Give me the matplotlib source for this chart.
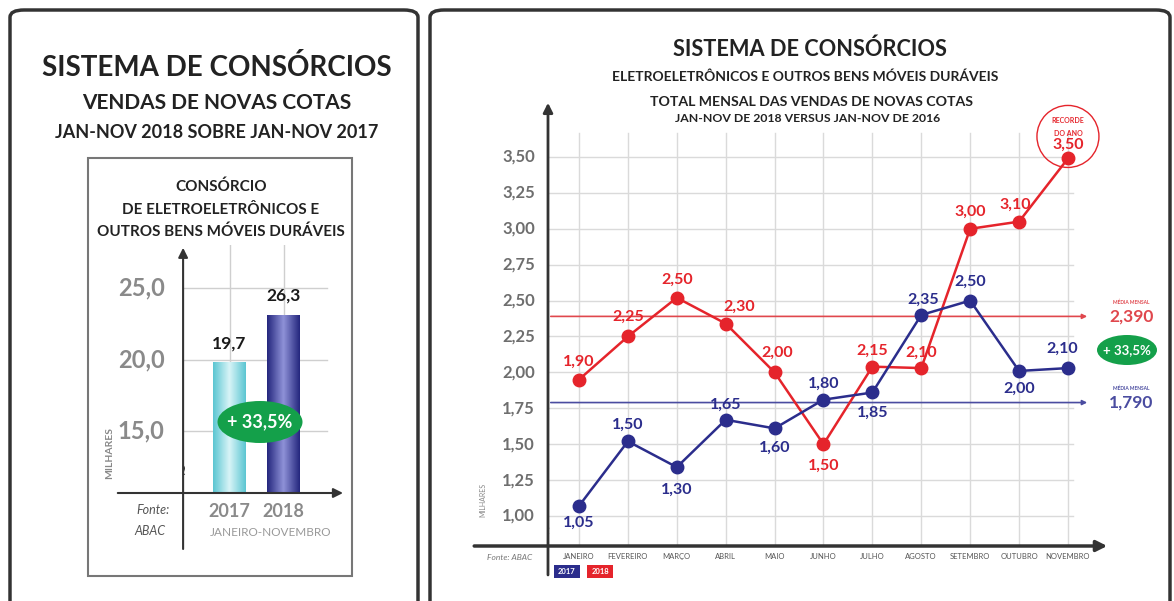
import numpy as np
import matplotlib
matplotlib.use("Agg")
import matplotlib.pyplot as plt
from matplotlib.patches import FancyBboxPatch, Ellipse, Circle, Rectangle
from matplotlib.colors import LinearSegmentedColormap
import matplotlib.transforms as mtransforms

plt.rcParams['font.family'] = ['Lato', 'DejaVu Sans']

W, H = 1174, 601

# left panel data (bar heights as drawn, labels as printed)
bar_years = ['2017', '2018']
bar_heights = [19.8, 23.1]
bar_labels = ['19,7', '26,3']
bar_ticks = [15.0, 20.0, 25.0]

# right panel data
months = ['JANEIRO', 'FEVEREIRO', 'MARÇO', 'ABRIL', 'MAIO', 'JUNHO', 'JULHO',
          'AGOSTO', 'SETEMBRO', 'OUTUBRO', 'NOVEMBRO']
vals_2018 = [1.95, 2.25, 2.52, 2.34, 2.00, 1.50, 2.04, 2.03, 3.00, 3.05, 3.49]
labels_2018 = ['1,90', '2,25', '2,50', '2,30', '2,00', '1,50', '2,15', '2,10', '3,00', '3,10', '3,50']
vals_2017 = [1.07, 1.52, 1.34, 1.67, 1.61, 1.81, 1.86, 2.40, 2.50, 2.01, 2.03]
labels_2017 = ['1,05', '1,50', '1,30', '1,65', '1,60', '1,80', '1,85', '2,35', '2,50', '2,00', '2,10']
mean_2018 = 2.39
mean_2017 = 1.79
line_ticks = [1.00, 1.25, 1.50, 1.75, 2.00, 2.25, 2.50, 2.75, 3.00, 3.25, 3.50]

RED = '#e5242b'
BLUE = '#2b2d8c'
GRAY = '#7a7a7a'


def fx(px):
    return px / W


def fy(py):
    return 1 - py / H


def ax_rect(x0, y0, x1, y1):
    # pixel box (top-left origin) -> figure rect
    return [fx(x0), fy(y1), fx(x1) - fx(x0), fy(y0) - fy(y1)]


fig = plt.figure(figsize=(W / 100, H / 100), dpi=100)
fig.patch.set_facecolor('white')

# panel frames
for x0, x1 in [(10, 418), (430, 1170)]:
    fig.patches.append(FancyBboxPatch((fx(x0), fy(640)), fx(x1) - fx(x0), fy(10) - fy(640),
                                      boxstyle='round,pad=0,rounding_size=0.012',
                                      transform=fig.transFigure, fill=False,
                                      edgecolor='#333333', linewidth=2.5))
fig.patches.append(Rectangle((fx(88), fy(576)), fx(352) - fx(88), fy(158) - fy(576),
                             transform=fig.transFigure, fill=False,
                             edgecolor='#777777', linewidth=1.5))

# ---------------- left panel ----------------
fig.text(fx(217), fy(67), 'SISTEMA DE CONSÓRCIOS', ha='center', va='center',
         fontsize=20, fontweight='bold', color='#222222')
fig.text(fx(217), fy(103), 'VENDAS DE NOVAS COTAS', ha='center', va='center',
         fontsize=15, fontweight='bold', color='#222222')
fig.text(fx(217), fy(133), 'JAN-NOV 2018 SOBRE JAN-NOV 2017', ha='center', va='center',
         fontsize=13, fontweight='bold', color='#222222')
fig.text(fx(221), fy(187), 'CONSÓRCIO', ha='center', va='center',
         fontsize=11, fontweight='bold', color='#222222')
fig.text(fx(221), fy(210), 'DE ELETROELETRÔNICOS E', ha='center', va='center',
         fontsize=11, fontweight='bold', color='#222222')
fig.text(fx(221), fy(232), 'OUTROS BENS MÓVEIS DURÁVEIS', ha='center', va='center',
         fontsize=11, fontweight='bold', color='#222222')

axl = fig.add_axes(ax_rect(115, 245, 342, 493))
axl.axis('off')
xpos = np.arange(len(bar_years))
for t in bar_ticks:
    axl.plot([-0.86, 1.8], [t, t], color='#cfcfcf', lw=1, zorder=1)
    axl.text(-1.2, t, f'{t:.1f}'.replace('.', ','), ha='right', va='center',
             fontsize=17, fontweight='bold', color='#8a8a8a')
for xi in xpos:
    axl.plot([xi, xi], [10.7, 28.0], color='#cfcfcf', lw=1, zorder=1)

bar_cmaps = [
    LinearSegmentedColormap.from_list('c17', ['#5cc6d2', '#d8f4f7', '#5cc6d2']),
    LinearSegmentedColormap.from_list('c18', ['#25277e', '#8f92d8', '#25277e']),
]
bw = 0.61
grad = np.linspace(0, 1, 64).reshape(1, -1)
for xi, h, lab, cm in zip(xpos, bar_heights, bar_labels, bar_cmaps):
    axl.imshow(grad, cmap=cm, aspect='auto', extent=(xi - bw / 2, xi + bw / 2, 10.7, h),
               zorder=2)
    axl.text(xi, h + 0.8, lab, ha='center', va='bottom', fontsize=12.5,
             fontweight='bold', color='#1a1a1a')
    axl.text(xi, 10.0, bar_years[xi], ha='center', va='top', fontsize=13,
             fontweight='bold', color='#8a8a8a', clip_on=False)
axl.set_xlim(-2.12, 2.08)
axl.set_ylim(10.7, 28.0)

# axes arrows
axl.annotate('', xy=(-0.86, 28.0), xytext=(-0.86, 6.6),
             arrowprops=dict(arrowstyle='-|>', color='#333333', lw=1.5, mutation_scale=14),
             annotation_clip=False)
axl.annotate('', xy=(2.15, 10.7), xytext=(-2.12, 10.7),
             arrowprops=dict(arrowstyle='-|>', color='#333333', lw=1.5, mutation_scale=14),
             annotation_clip=False)
axl.text(-0.86, 12.3, '≀', ha='center', va='center', fontsize=11, color='#333333',
         family='DejaVu Sans')

fig.text(fx(110), fy(453), 'MILHARES', rotation=90, ha='center', va='center',
         fontsize=7.5, fontweight='bold', color='#888888')
fig.text(fx(153), fy(510), 'Fonte:', ha='center', va='center', fontsize=9,
         style='italic', color='#555555')
fig.text(fx(150), fy(531), 'ABAC', ha='center', va='center', fontsize=9,
         style='italic', color='#555555')
fig.text(fx(271), fy(533), 'JANEIRO-NOVEMBRO', ha='center', va='center', fontsize=8.5,
         color='#999999')

fig.patches.append(Ellipse((fx(260), fy(422)), 85 / W, 42 / H, transform=fig.transFigure,
                           facecolor='#14a04a', edgecolor='none', zorder=5))
fig.text(fx(260), fy(422), '+ 33,5%', ha='center', va='center', fontsize=13,
         fontweight='bold', color='white', zorder=6)

# ---------------- right panel ----------------
fig.text(fx(810), fy(49), 'SISTEMA DE CONSÓRCIOS', ha='center', va='center',
         fontsize=15.7, fontweight='bold', color='#222222')
fig.text(fx(805), fy(77), 'ELETROELETRÔNICOS E OUTROS BENS MÓVEIS DURÁVEIS', ha='center',
         va='center', fontsize=10, fontweight='bold', color='#222222')
fig.text(fx(811), fy(102), 'TOTAL MENSAL DAS VENDAS DE NOVAS COTAS', ha='center',
         va='center', fontsize=10.2, fontweight='bold', color='#222222')
fig.text(fx(808), fy(119), 'JAN-NOV DE 2018 VERSUS JAN-NOV DE 2016', ha='center',
         va='center', fontsize=8.8, fontweight='bold', color='#222222')

ax = fig.add_axes(ax_rect(548, 100, 1110, 546))
ax.set_xlim(-0.634, 10.86)
ax.set_ylim(0.791, 3.897)
ax.axis('off')
x = np.arange(len(months))

for t in line_ticks:
    ax.plot([-0.634, 10.1], [t, t], color='#dadada', lw=1, zorder=1)
    ax.text(-0.9, t, f'{t:.2f}'.replace('.', ','), ha='right', va='center',
            fontsize=12, fontweight='bold', color='#6e6e6e', clip_on=False)
for xi in x:
    ax.plot([xi, xi], [0.791, 3.67], color='#dadada', lw=1, zorder=1)
    ax.text(xi, 0.72, months[xi], ha='center', va='center', fontsize=5.5,
            color='#555555', clip_on=False)

# monthly means
for m, col, lab in [(mean_2018, '#e0474d', '2,390'), (mean_2017, '#4a4ca0', '1,790')]:
    ax.annotate('', xy=(10.45, m), xytext=(-0.634, m),
                arrowprops=dict(arrowstyle='-|>', color=col, lw=1.2, mutation_scale=7),
                zorder=2)
    ax.text(11.3, m, lab, ha='center', va='center', fontsize=12.5, fontweight='bold',
            color=col, clip_on=False)
    ax.text(11.3, m + 0.1, 'MÉDIA MENSAL', ha='center', va='center', fontsize=3.5,
            fontweight='bold', color=col, clip_on=False)

ax.plot(x, vals_2017, '-o', color=BLUE, lw=1.8, markersize=9, zorder=4)
ax.plot(x, vals_2018, '-o', color=RED, lw=1.8, markersize=9, zorder=3)

off_2018 = [(0, 18), (0, 20), (0, 18), (14, 17), (3, 20), (0, -22), (0, 16), (0, 15),
            (0, 17), (-4, 17), (0, 14)]
off_2017 = [(0, -17), (0, 17), (0, -23), (0, 15), (0, -19), (0, 16), (0, -20), (2, 15),
            (0, 19), (0, -18), (-6, 19)]
for xi, v, lab, (dx, dy) in zip(x, vals_2018, labels_2018, off_2018):
    ax.annotate(lab, xy=(xi, v), xytext=(dx * 0.72, dy * 0.72), textcoords='offset points',
                ha='center', va='center', fontsize=11.5, fontweight='bold', color=RED,
                zorder=6, annotation_clip=False)
for xi, v, lab, (dx, dy) in zip(x, vals_2017, labels_2017, off_2017):
    ax.annotate(lab, xy=(xi, v), xytext=(dx * 0.72, dy * 0.72), textcoords='offset points',
                ha='center', va='center', fontsize=11.5, fontweight='bold', color=BLUE,
                zorder=6, annotation_clip=False)

# record circle around the November 2018 point
rec = int(np.argmax(vals_2018))
circ_trans = fig.dpi_scale_trans + mtransforms.ScaledTranslation(rec, vals_2018[rec], ax.transData)
ax.add_patch(Circle((0, 0.22), 0.31, transform=circ_trans, fill=False, edgecolor=RED,
                    lw=1.0, clip_on=False))
ax.annotate('RECORDE', xy=(rec, vals_2018[rec]), xytext=(0, 27), textcoords='offset points',
            ha='center', va='center', fontsize=5, fontweight='bold', color=RED)
ax.annotate('DO ANO', xy=(rec, vals_2018[rec]), xytext=(0, 18), textcoords='offset points',
            ha='center', va='center', fontsize=5, fontweight='bold', color=RED)

# axes arrows
ax.annotate('', xy=(-0.634, 3.897), xytext=(-0.634, 0.57),
            arrowprops=dict(arrowstyle='-|>', color='#333333', lw=2, mutation_scale=14),
            annotation_clip=False)
ax.annotate('', xy=(10.86, 0.791), xytext=(-2.2, 0.791),
            arrowprops=dict(arrowstyle='-|>', color='#333333', lw=2.5, mutation_scale=16),
            annotation_clip=False)
ax.text(-0.634, 0.9, '≀', ha='center', va='center', fontsize=9, color='#333333',
        family='DejaVu Sans', clip_on=False)

fig.text(fx(483), fy(500), 'MILHARES', rotation=90, ha='center', va='center',
         fontsize=5, color='#888888')
fig.text(fx(510), fy(557), 'Fonte: ABAC', ha='center', va='center', fontsize=6,
         style='italic', color='#777777')
for x0, x1, col, lab in [(554, 580, BLUE, '2017'), (587, 613, RED, '2018')]:
    fig.patches.append(Rectangle((fx(x0), fy(578)), fx(x1) - fx(x0), fy(565) - fy(578),
                                 transform=fig.transFigure, facecolor=col, edgecolor='none'))
    fig.text(fx((x0 + x1) / 2), fy(571.5), lab, ha='center', va='center', fontsize=5.5,
             fontweight='bold', color='white')

fig.patches.append(Ellipse((fx(1127), fy(350)), 60 / W, 30 / H, transform=fig.transFigure,
                           facecolor='#14a04a', edgecolor='none'))
fig.text(fx(1127), fy(350), '+ 33,5%', ha='center', va='center', fontsize=9.5,
         fontweight='bold', color='white')

fig.savefig('out.png', dpi=100)
